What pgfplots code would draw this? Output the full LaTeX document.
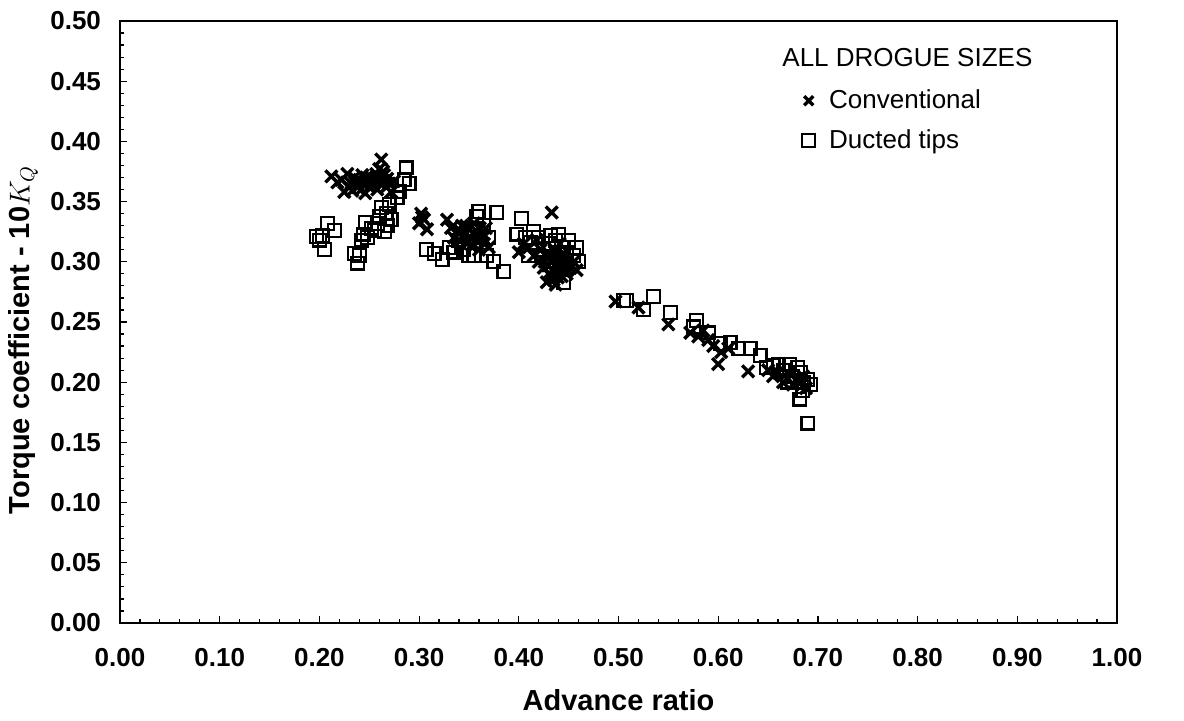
\documentclass[border=0pt]{standalone}
\usepackage{pgfplots}
\pgfplotsset{compat=1.18}
\usepackage{fontspec}
\setmainfont{Liberation Sans}
\begin{document}
\begin{tikzpicture}
\begin{axis}[
  scale only axis,
  width=498.5pt, height=301pt,
  xmin=0, xmax=1, ymin=0, ymax=0.5,
  xtick={0,0.1,...,1.0}, ytick={0,0.05,...,0.5},
  minor x tick num=4, minor y tick num=4,
  tick align=inside, xtick pos=bottom, ytick pos=left,
  major tick length=3.5pt, minor tick length=2pt,
  tick style={black, line width=0.6pt},
  axis line style={line width=0.8pt},
  /pgf/number format/assume math mode=true,
  xticklabel={\pgfmathprintnumber[fixed,fixed zerofill,precision=2]{\tick}},
  yticklabel={\pgfmathprintnumber[fixed,fixed zerofill,precision=2]{\tick}},
  ticklabel style={font=\bfseries\fontsize{13}{15}\selectfont},
  xticklabel style={yshift=-9pt},
  yticklabel style={xshift=-6pt},
  xlabel={Advance ratio},
  ylabel={Torque coefficient - 10$K_Q$},
  label style={font=\bfseries\fontsize{14.5}{17}\selectfont},
  xlabel style={at={(axis description cs:0.5,-0.128)}, anchor=center},
  ylabel style={at={(axis description cs:-0.097,0.47)}, anchor=center},
  legend style={draw=none, fill=none, at={(axis description cs:0.684,0.893)}, anchor=north west,
    font=\fontsize{13}{15}\selectfont, row sep=5pt, inner sep=0pt,
    /tikz/every odd column/.append style={column sep=5pt}},
  legend cell align=left,
  legend image post style={mark size=3.2pt},
]
\addplot[only marks, mark=x, mark size=4.2pt, line width=1.7pt] coordinates {
(0.212,0.371) (0.218,0.366) (0.225,0.358) (0.228,0.373) (0.232,0.365) (0.235,0.370)
(0.238,0.362) (0.240,0.368) (0.243,0.372) (0.245,0.364) (0.248,0.367) (0.250,0.362)
(0.252,0.370) (0.255,0.366) (0.257,0.373) (0.258,0.360) (0.260,0.377) (0.262,0.385)
(0.263,0.368) (0.265,0.372) (0.267,0.362) (0.270,0.365) (0.272,0.358) (0.275,0.367)
(0.222,0.368) (0.230,0.362) (0.236,0.366) (0.242,0.360) (0.247,0.370) (0.253,0.364)
(0.256,0.369) (0.261,0.365) (0.264,0.375) (0.268,0.369) (0.246,0.357) (0.233,0.359)
(0.300,0.332) (0.302,0.340) (0.305,0.335) (0.308,0.327) (0.303,0.337)
(0.328,0.335) (0.332,0.328) (0.335,0.320) (0.338,0.325) (0.340,0.318) (0.343,0.330)
(0.345,0.322) (0.348,0.315) (0.350,0.327) (0.352,0.320) (0.355,0.332) (0.357,0.318)
(0.358,0.325) (0.360,0.310) (0.362,0.322) (0.365,0.315) (0.367,0.328) (0.370,0.312)
(0.342,0.325) (0.347,0.330) (0.353,0.314) (0.356,0.322) (0.361,0.328) (0.364,0.320)
(0.400,0.308) (0.405,0.315) (0.410,0.312) (0.415,0.305) (0.418,0.318) (0.420,0.300)
(0.422,0.310) (0.425,0.295) (0.427,0.305) (0.430,0.290) (0.432,0.300) (0.433,0.341)
(0.435,0.285) (0.436,0.310) (0.438,0.298) (0.440,0.292) (0.442,0.305) (0.443,0.288)
(0.445,0.300) (0.447,0.295) (0.450,0.302) (0.452,0.295) (0.455,0.300) (0.458,0.293)
(0.428,0.283) (0.437,0.281) (0.441,0.315)
(0.429,0.297) (0.431,0.306) (0.434,0.293) (0.436,0.302) (0.439,0.287) (0.441,0.298)
(0.444,0.293) (0.446,0.306) (0.448,0.290) (0.433,0.288) (0.426,0.300) (0.438,0.308)
(0.497,0.267) (0.520,0.262) (0.550,0.248) (0.572,0.241) (0.580,0.238) (0.585,0.243)
(0.590,0.235) (0.595,0.230) (0.600,0.215) (0.603,0.225) (0.610,0.228) (0.630,0.209)
(0.650,0.210) (0.655,0.205) (0.660,0.208) (0.665,0.200) (0.670,0.203) (0.675,0.198)
(0.680,0.200) (0.685,0.205) (0.688,0.195)
};
\addlegendentry{Conventional}
\addplot[only marks, mark=square, mark size=3.2pt, line width=1.1pt] coordinates {
(0.197,0.321) (0.200,0.318) (0.203,0.322) (0.205,0.310) (0.208,0.332) (0.215,0.326)
(0.235,0.307) (0.238,0.299) (0.240,0.305) (0.242,0.318) (0.244,0.323) (0.246,0.333)
(0.248,0.320) (0.252,0.328) (0.255,0.326) (0.258,0.332) (0.260,0.338) (0.262,0.345)
(0.265,0.325) (0.267,0.340) (0.270,0.348) (0.272,0.335) (0.278,0.353) (0.280,0.358)
(0.285,0.368) (0.287,0.378) (0.290,0.365) (0.268,0.330)
(0.307,0.310) (0.315,0.307) (0.323,0.302) (0.330,0.312) (0.335,0.308) (0.340,0.318)
(0.345,0.310) (0.350,0.305) (0.352,0.320) (0.355,0.325) (0.358,0.338) (0.360,0.342)
(0.362,0.315) (0.365,0.330) (0.368,0.305) (0.375,0.300) (0.378,0.341) (0.385,0.292)
(0.370,0.320) (0.355,0.305)
(0.398,0.323) (0.403,0.336) (0.407,0.320) (0.410,0.305) (0.412,0.316) (0.415,0.325)
(0.420,0.320) (0.425,0.310) (0.430,0.315) (0.432,0.322) (0.437,0.318) (0.440,0.323)
(0.443,0.312) (0.448,0.308) (0.450,0.318) (0.455,0.305) (0.458,0.312) (0.460,0.300)
(0.435,0.290) (0.445,0.283)
(0.505,0.268) (0.508,0.268) (0.525,0.260) (0.535,0.271) (0.552,0.258) (0.575,0.246)
(0.578,0.251) (0.590,0.241) (0.602,0.232) (0.612,0.233) (0.620,0.228) (0.632,0.228)
(0.642,0.222) (0.648,0.212) (0.655,0.214) (0.660,0.215) (0.665,0.210) (0.672,0.215)
(0.675,0.205) (0.680,0.212) (0.683,0.208) (0.686,0.200) (0.690,0.202) (0.693,0.198)
(0.682,0.186) (0.690,0.166) (0.670,0.200) (0.685,0.193)
};
\addlegendentry{Ducted tips}
\node[anchor=west, inner sep=0pt, font=\fontsize{13}{15}\selectfont] at (axis description cs:0.664,0.9385) {ALL DROGUE SIZES};
\end{axis}
\pgfresetboundingbox
\path (-60pt,-49pt) rectangle (532pt,311.5pt);
\end{tikzpicture}
\end{document}
